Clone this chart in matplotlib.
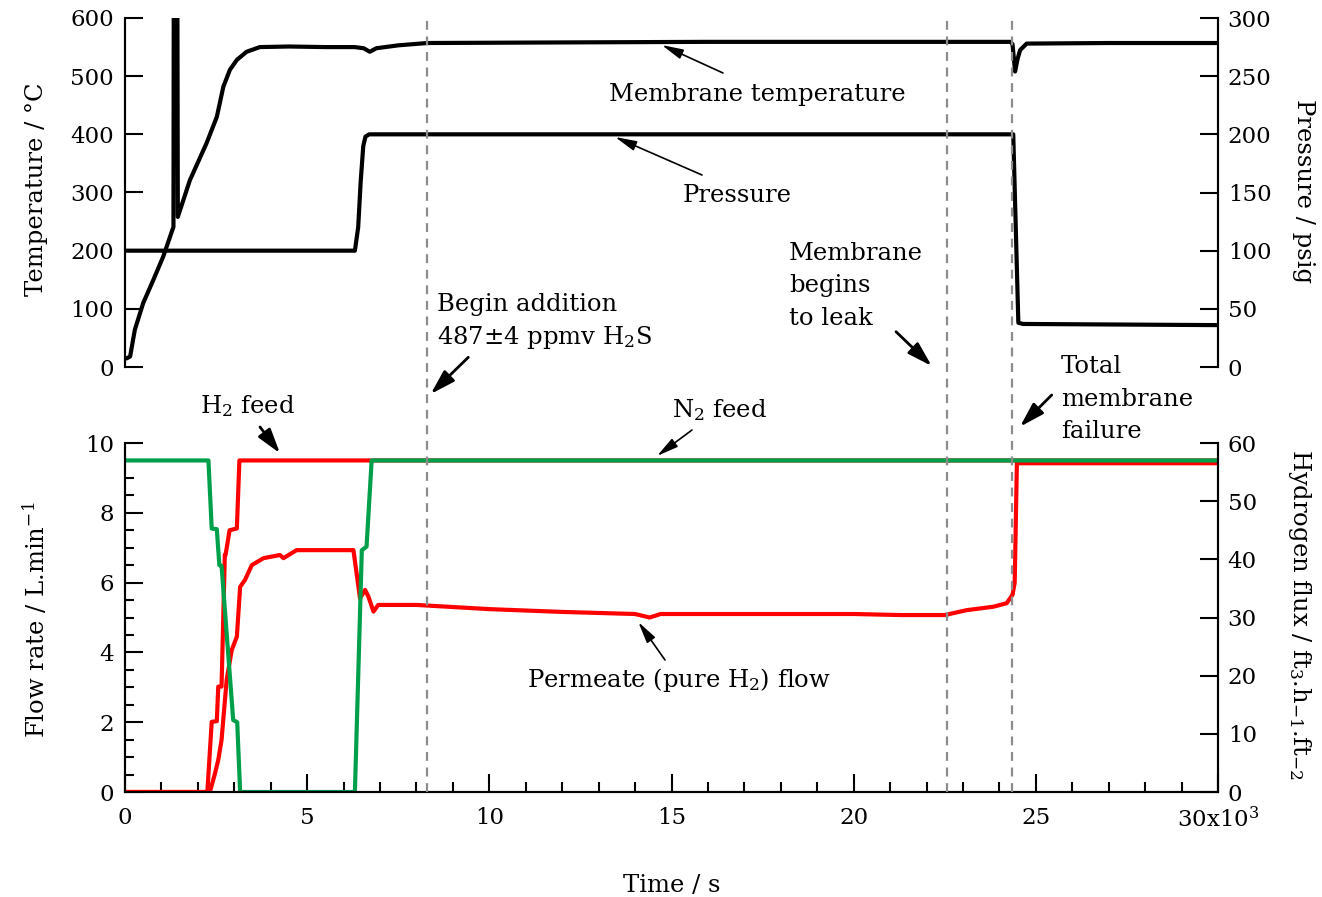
import matplotlib
matplotlib.use('Agg')
import matplotlib.pyplot as plt
from matplotlib.patches import FancyArrowPatch
from matplotlib.lines import Line2D
import matplotlib.transforms as mtransforms
from matplotlib.ticker import MultipleLocator

plt.rcParams['font.family'] = 'DejaVu Serif'
plt.rcParams['mathtext.fontset'] = 'dejavuserif'

# ---------------- data (time in seconds) ----------------
temp_t = [0, 50, 140, 270, 500, 780, 1050, 1330, 1350, 1420, 1450, 1780, 2240, 2520, 2700,
          2880, 3070, 3340, 3700, 4500, 5500, 6300, 6550, 6720, 6900, 7500, 8300, 12000,
          16000, 20000, 24300, 24360, 24430, 24500, 24570, 24750, 27000, 30000]
temp_c = [15, 15, 18, 64, 110, 150, 190, 241, 1200, 1200, 258, 321, 385, 430, 482,
          511, 528, 542, 550, 551, 550, 550, 548, 542, 548, 553, 557, 558,
          559, 559, 559, 555, 508, 530, 545, 556, 557, 557]

pres_t = [0, 6310, 6400, 6470, 6540, 6600, 6700, 24380, 24520, 24650, 30000]
pres_psig = [100, 100, 120, 160, 190, 198, 200, 200, 38, 37, 36]

n2_t = [0, 2290, 2380, 2520, 2590, 2650, 2970, 3080, 3160, 6310, 6500, 6630, 6770, 30000]
n2_flow = [9.5, 9.5, 7.55, 7.53, 6.5, 6.48, 2.06, 2.0, 0, 0, 6.93, 7.03, 9.5, 9.5]

h2_t = [0, 2260, 2380, 2520, 2560, 2650, 2740, 2760, 2870, 3070, 3140, 30000]
h2_flow = [0, 0, 2.01, 2.03, 3.02, 3.02, 6.79, 6.79, 7.5, 7.55, 9.5, 9.5]

perm_t = [0, 2330, 2470, 2560, 2650, 2790, 2930, 3070, 3160, 3290, 3480, 3800, 4250, 4350,
          4710, 5350, 6270, 6450, 6590, 6680, 6820, 6950, 8000, 10000, 12000, 14000, 14400,
          14700, 17000, 20000, 21300, 22500, 23100, 23840, 24200, 24360, 24420, 24480, 30000]
perm_flow = [0, 0, 0.53, 0.92, 1.49, 3.21, 4.07, 4.45, 5.88, 6.07, 6.5, 6.7, 6.79, 6.7,
             6.93, 6.93, 6.93, 5.55, 5.79, 5.6, 5.17, 5.36, 5.36, 5.24, 5.16, 5.1, 5.0,
             5.1, 5.1, 5.1, 5.07, 5.07, 5.21, 5.31, 5.41, 5.65, 6.0, 9.42, 9.42]

event_t = [8300, 22550, 24350]

time_ticks = [0, 5000, 10000, 15000, 20000, 25000, 30000]
time_labels = ['0', '5', '10', '15', '20', '25', '30x10$^3$']

# ---------------- figure ----------------
W, H = 1322, 897
fig = plt.figure(figsize=(W / 100, H / 100), dpi=100)


def fx(px):
    return px / W


def fy(py):
    return 1 - py / H


L, R = 125, 1218
ax1 = fig.add_axes([fx(L), fy(367), (R - L) / W, (367 - 18) / H])
ax2 = fig.add_axes([fx(L), fy(792), (R - L) / W, (792 - 443) / H])
ax1r = ax1.twinx()
ax2r = ax2.twinx()
for a in (ax1, ax2):
    a.patch.set_facecolor('none')

GREEN = '#00a04a'
RED = '#ff0000'
LW = 3.0

ax1.plot(temp_t, temp_c, color='black', lw=LW, solid_joinstyle='round')
ax1r.plot(pres_t, pres_psig, color='black', lw=LW, solid_joinstyle='round')

ax2.plot(perm_t, perm_flow, color=RED, lw=LW, solid_joinstyle='round')
ax2.plot(h2_t, h2_flow, color=RED, lw=LW, solid_joinstyle='round')
ax2.plot(n2_t, n2_flow, color=GREEN, lw=LW, solid_joinstyle='round')

for a in (ax1, ax1r, ax2, ax2r):
    a.set_xlim(0, 30000)
    for s in a.spines.values():
        s.set_linewidth(1.5)
    a.spines['top'].set_visible(False)
for a in (ax1, ax1r):
    a.spines['bottom'].set_visible(False)

ax1.set_ylim(0, 600)
ax1r.set_ylim(0, 300)
ax2.set_ylim(0, 10)
ax2r.set_ylim(0, 60)

ax1.yaxis.set_major_locator(MultipleLocator(100))
ax1r.yaxis.set_major_locator(MultipleLocator(50))
ax2.yaxis.set_major_locator(MultipleLocator(2))
ax2.yaxis.set_minor_locator(MultipleLocator(0.5))
ax2r.yaxis.set_major_locator(MultipleLocator(10))
ax2.set_xticks(time_ticks)
ax2.set_xticklabels(time_labels)
ax2.xaxis.set_minor_locator(MultipleLocator(1000))

TS = 16.5
ax1.tick_params(axis='x', bottom=False, top=False, labelbottom=False)
for a in (ax1, ax2):
    a.tick_params(axis='y', which='major', direction='in', length=13, width=1.5,
                  labelsize=TS, pad=8, right=False)
    a.tick_params(axis='y', which='minor', direction='in', length=6.5, width=1.5, right=False)
for a in (ax1r, ax2r):
    a.tick_params(axis='y', which='major', direction='in', length=13, width=1.5,
                  labelsize=TS, pad=7, left=False)
ax2.tick_params(axis='x', which='major', direction='in', length=13, width=1.5,
                labelsize=TS, pad=11, top=False)
ax2.tick_params(axis='x', which='minor', direction='in', length=7, width=1.5, top=False)

# dashed event lines spanning both panels
bt = mtransforms.blended_transform_factory(ax2.transData, fig.transFigure)
for t in event_t:
    fig.add_artist(Line2D([t, t], [fy(792), fy(18)], transform=bt, color='#8c8c8c',
                          lw=1.6, ls=(0, (4, 3))))

# axis labels
fs = 17.5
fig.text(fx(37), fy(189), 'Temperature / °C', rotation=90, ha='center', va='center', fontsize=fs)
fig.text(fx(35), fy(620), 'Flow rate / L.min$^{-1}$', rotation=90, ha='center', va='center', fontsize=fs)
fig.text(fx(1303), fy(191), 'Pressure / psig', rotation=-90, ha='center', va='center', fontsize=fs)
# in the reference the exponents of this rotated label sit on the baseline side
fig.text(fx(1299), fy(615), 'Hydrogen flux / ft$_3$.h$_{-1}$.ft$_{-2}$', rotation=-90,
         ha='center', va='center', fontsize=fs)
fig.text(fx(672), fy(885), 'Time / s', ha='center', va='center', fontsize=fs)

# annotation texts (baseline positions)
texts = [
    ('Membrane temperature', 757, 100.7, 'center'),
    ('Pressure', 737, 201.7, 'center'),
    ('Membrane', 789, 259.5, 'left'),
    ('begins', 789, 292, 'left'),
    ('to leak', 789, 324.5, 'left'),
    ('Begin addition', 437, 310.5, 'left'),
    ('487±4 ppmv H$_2$S', 437, 343.5, 'left'),
    ('Total', 1061, 373, 'left'),
    ('membrane', 1061, 405.5, 'left'),
    ('failure', 1061, 437.5, 'left'),
    ('H$_2$ feed', 247.5, 413.3, 'center'),
    ('N$_2$ feed', 720, 416.7, 'center'),
    ('Permeate (pure H$_2$) flow', 678.5, 687.3, 'center'),
]
for s, x, y, ha in texts:
    fig.text(fx(x), fy(y), s, ha=ha, va='baseline', fontsize=fs)

# arrows (tail, tip) in pixel coordinates
thin = [((723, 73), (661.7, 45)), ((702, 175), (615, 137)),
        ((692, 430), (657, 456)), ((665, 660), (638.3, 622))]
thick = [((260, 427), (280, 453.3)), ((468.3, 357.3), (430.7, 394)),
         ((896, 331.7), (931.7, 366)), ((1051.7, 395), (1020, 426.7))]
for (x0, y0), (x1, y1) in thin:
    fig.add_artist(FancyArrowPatch((fx(x0), fy(y0)), (fx(x1), fy(y1)),
                                   transform=fig.transFigure,
                                   arrowstyle='-|>,head_length=1.3,head_width=0.3',
                                   mutation_scale=10, lw=1.2, color='black',
                                   shrinkA=0, shrinkB=0))
for (x0, y0), (x1, y1) in thick:
    fig.add_artist(FancyArrowPatch((fx(x0), fy(y0)), (fx(x1), fy(y1)),
                                   transform=fig.transFigure,
                                   arrowstyle='-|>,head_length=1.5,head_width=0.45',
                                   mutation_scale=10, lw=2.0, color='black',
                                   shrinkA=0, shrinkB=0))

fig.savefig('out.png', dpi=100)
